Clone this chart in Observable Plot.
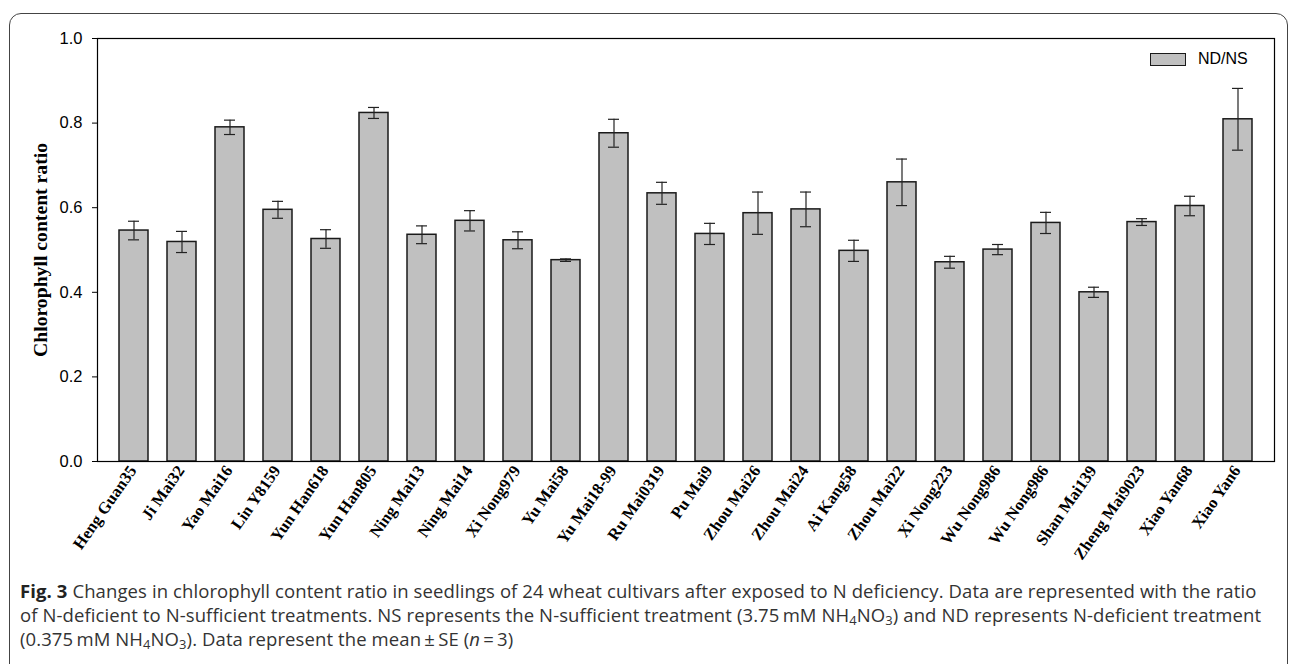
<!DOCTYPE html>
<html>
<head>
<meta charset="utf-8">
<script src="https://cdn.jsdelivr.net/npm/d3@7"></script>
<script src="https://cdn.jsdelivr.net/npm/@observablehq/plot@0.6"></script>
<style>
  html, body { margin: 0; padding: 0; background: #fff; overflow: hidden; }
  body { width: 1293px; height: 664px; position: relative; }
  #box { position: absolute; left: 9px; top: 13px; width: 1279px; height: 720px;
         border: 1.5px solid #444; border-radius: 12px; box-sizing: border-box; }
  #chart { position: absolute; left: 0; top: 0; }
  #ylab { position: absolute; left: 40px; top: 250px; transform: translate(-50%, -50%) rotate(-90deg);
          font-family: "Liberation Serif", "Times New Roman", serif; font-weight: bold; font-size: 19.7px;
          white-space: nowrap; color: #000; }
  #legend { position: absolute; left: 1150px; top: 50px; font-family: "Liberation Sans", Arial, sans-serif;
            font-size: 16px; color: #000; display: flex; align-items: center; }
  #legend .sw { width: 36px; height: 13px; background: #c0c0c0; border: 1.5px solid #1a1a1a; box-sizing: border-box; margin-right: 12px; }
  #caption { position: absolute; left: 20px; top: 579px; width: 1270px;
             font-family: "Open Sans", "Noto Sans", sans-serif; font-size: 18.5px; line-height: 24px;
             color: #333; white-space: nowrap; letter-spacing: 0.1px; }
  #caption b { color: #222; }
  sub { font-size: 0.7em; vertical-align: -0.2em; line-height: 0; }
</style>
</head>
<body>
<div id="box"></div>
<div id="chart"></div>
<div id="ylab">Chlorophyll content ratio</div>
<div id="legend"><div class="sw"></div><span>ND/NS</span></div>
<div id="caption"><b>Fig. 3</b> Changes in chlorophyll content ratio in seedlings of 24 wheat cultivars after exposed to N deficiency. Data are represented with the ratio<br>of N-deficient to N-sufficient treatments. NS represents the N-sufficient treatment (3.75&#8201;mM NH<sub>4</sub>NO<sub>3</sub>) and ND represents N-deficient treatment<br>(0.375&#8201;mM NH<sub>4</sub>NO<sub>3</sub>). Data represent the mean&#8201;±&#8201;SE (<i>n</i>&#8201;=&#8201;3)</div>
<script>
const cultivars = ["Heng Guan35","Ji Mai32","Yao Mai16","Lin Y8159","Yun Han618","Yun Han805","Ning Mai13","Ning Mai14","Xi Nong979","Yu Mai58","Yu Mai18-99","Ru Mai0319","Pu Mai9","Zhou Mai26","Zhou Mai24","Ai Kang58","Zhou Mai22","Xi Nong223","Wu Nong986","Wu Nong986","Shan Mai139","Zheng Mai9023","Xiao Yan68","Xiao Yan6"];
const ratio = [0.546,0.519,0.790,0.595,0.526,0.824,0.536,0.569,0.523,0.476,0.776,0.634,0.538,0.587,0.596,0.498,0.660,0.471,0.501,0.564,0.400,0.566,0.604,0.809];
const se = [0.022,0.025,0.017,0.020,0.022,0.013,0.021,0.024,0.020,0.003,0.033,0.026,0.025,0.050,0.041,0.025,0.055,0.014,0.012,0.025,0.012,0.008,0.023,0.073];
const yTicks = [0, 0.2, 0.4, 0.6, 0.8, 1.0];

const data = cultivars.map((c, i) => ({i, c, v: ratio[i], lo: ratio[i] - se[i], hi: ratio[i] + se[i]}));

const chart = Plot.plot({
  width: 1293,
  height: 575,
  marginLeft: 97,
  marginRight: 19,
  marginTop: 38,
  marginBottom: 114,
  style: {background: "transparent", overflow: "visible"},
  x: {type: "band", domain: d3.range(cultivars.length), padding: 0.39, align: 0.5},
  y: {domain: [0, 1], range: [461, 38]},
  marks: [
    Plot.barY(data, {x: "i", y: "v", fill: "#c0c0c0", stroke: "#1a1a1a", strokeWidth: 1.5}),
    Plot.ruleX(data, {x: "i", y1: "lo", y2: "hi", stroke: "#222", strokeWidth: 1.2}),
    Plot.tickY(data, {x: "i", y: "hi", stroke: "#222", strokeWidth: 1.2, insetLeft: 9, insetRight: 9}),
    Plot.tickY(data, {x: "i", y: "lo", stroke: "#222", strokeWidth: 1.2, insetLeft: 9, insetRight: 9}),
    Plot.frame({stroke: "#000", strokeWidth: 1.2}),
    Plot.axisY({ticks: yTicks, tickFormat: d3.format(".1f"), tickSize: 5, tickPadding: 10, label: null,
                fill: "#000", stroke: "#000"}),
    Plot.axisX({tickFormat: i => cultivars[i], tickSize: 0, tickRotate: -55, tickPadding: 6, label: null,
                fill: "#000", dx: -1})
  ]
});
document.getElementById("chart").appendChild(chart);
// apply fonts to the axis tick labels
const names = new Set(cultivars);
d3.select(chart).selectAll("text").each(function() {
  const t = this.textContent;
  if (names.has(t)) {
    this.style.fontFamily = '"Liberation Serif", "Times New Roman", serif';
    this.style.fontWeight = "bold";
    this.style.fontSize = "16.5px";
  } else {
    this.style.fontFamily = '"Liberation Sans", Arial, sans-serif';
    this.style.fontSize = "16.5px";
  }
});
</script>
</body>
</html>
